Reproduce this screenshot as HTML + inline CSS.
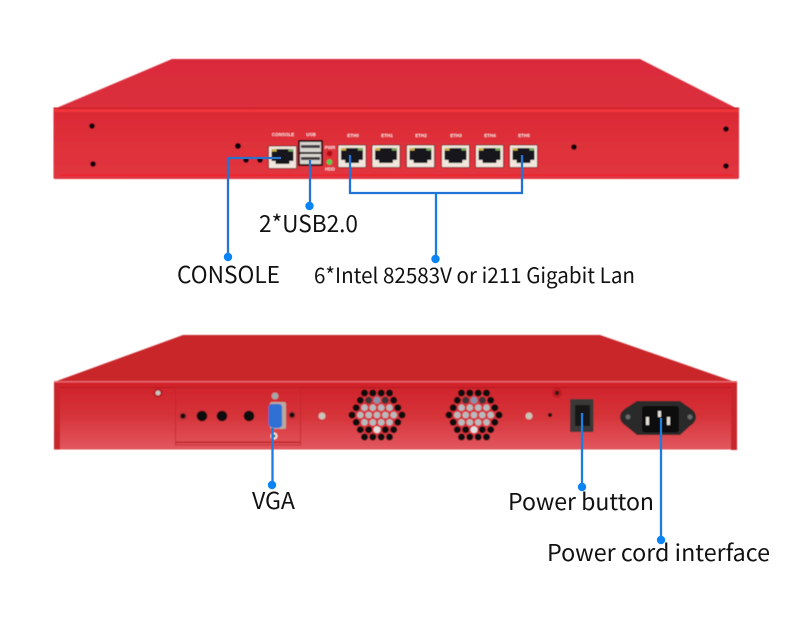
<!DOCTYPE html>
<html><head><meta charset="utf-8"><style>html,body{margin:0;padding:0;background:#fff}svg{display:block}text{font-family:"Liberation Sans",sans-serif}.l{font-family:"Noto Sans CJK JP","Liberation Sans",sans-serif;font-size:23px;fill:#111}.s{font-size:4.5px;font-weight:bold;fill:#f8dcdc;text-anchor:middle}</style></head><body>
<svg width="790" height="617" viewBox="0 0 790 617" xmlns="http://www.w3.org/2000/svg">
<defs>
<filter id="b" x="-2%" y="-2%" width="104%" height="104%"><feGaussianBlur stdDeviation=".4"/></filter>
<linearGradient id="f1" x1="0" y1="0" x2="0" y2="1"><stop offset="0" stop-color="#dc2a35"/><stop offset="1" stop-color="#e13640"/></linearGradient>
<linearGradient id="t1" x1="0" y1="0" x2="0" y2="1"><stop offset="0" stop-color="#d92b3a"/><stop offset="1" stop-color="#dc303d"/></linearGradient>
<linearGradient id="f2" x1="0" y1="0" x2="0" y2="1"><stop offset="0" stop-color="#d0222a"/><stop offset=".5" stop-color="#d6333a"/><stop offset="1" stop-color="#e2575e"/></linearGradient>
<g id="rj"><rect x="0" y="0" width="28" height="22.500" rx="1" fill="#f0e6dc" stroke="#5a1014" stroke-width=".8"/><path d="M3 3H25V15H21V18H7V15H3Z" fill="#16181c"/><rect x="3" y="3" width="5" height="2.500" fill="#c9b04a"/><rect x="20" y="3" width="5" height="2.500" fill="#79a85c"/></g>
<g id="fan">
<circle cx="0" cy="0" r="22" fill="#d8343c"/>
<g fill="#0d0a0c">
<circle cx="-12.500" cy="-22" r="3.500"/><circle cx="-4.200" cy="-22" r="3.500"/><circle cx="4.200" cy="-22" r="3.500"/><circle cx="12.500" cy="-22" r="3.500"/>
<circle cx="-16.700" cy="-14.700" r="3.500"/><circle cx="16.700" cy="-14.700" r="3.500"/>
<circle cx="-20.800" cy="-7.300" r="3.500"/><circle cx="20.800" cy="-7.300" r="3.500"/>
<circle cx="-25" cy="0" r="3.500"/><circle cx="25" cy="0" r="3.500"/>
<circle cx="-20.800" cy="7.300" r="3.500"/><circle cx="20.800" cy="7.300" r="3.500"/>
<circle cx="-16.700" cy="14.700" r="3.500"/><circle cx="16.700" cy="14.700" r="3.500"/>
<circle cx="-12.500" cy="22" r="3.500"/><circle cx="-4.200" cy="22" r="3.500"/><circle cx="4.200" cy="22" r="3.500"/><circle cx="12.500" cy="22" r="3.500"/>
<circle cx="-8.300" cy="-14.700" r="3.500" fill="#3a3034"/><circle cx="0" cy="-14.700" r="3.500" fill="#8a90a8"/><circle cx="8.300" cy="-14.700" r="3.500" fill="#3a3034"/>
<circle cx="-8.300" cy="14.700" r="3.500"/><circle cx="0" cy="14.700" r="3.500" fill="#e0e0e0"/><circle cx="8.300" cy="14.700" r="3.500"/>
</g>
<g fill="#b8babc">
<circle cx="-12.500" cy="-7.300" r="3.300"/><circle cx="-4.200" cy="-7.300" r="3.300"/><circle cx="4.200" cy="-7.300" r="3.300"/><circle cx="12.500" cy="-7.300" r="3.300"/>
<circle cx="-16.700" cy="0" r="3.300"/><circle cx="-8.300" cy="0" r="3.300"/><circle cx="0" cy="0" r="3.300"/><circle cx="8.300" cy="0" r="3.300"/><circle cx="16.700" cy="0" r="3.300"/>
<circle cx="-12.500" cy="7.300" r="3.300"/><circle cx="-4.200" cy="7.300" r="3.300"/><circle cx="4.200" cy="7.300" r="3.300"/><circle cx="12.500" cy="7.300" r="3.300"/>
</g>
</g>
</defs>

<g filter="url(#b)">
<!-- top device -->
<polygon points="172,59 640,59 738,109 54,109" fill="url(#t1)"/>
<rect x="53.500" y="109" width="685.500" height="70" rx="1.500" fill="url(#f1)"/>
<rect x="53.500" y="109" width="685.500" height="3" fill="#f0343a"/>
<rect x="53.500" y="107.500" width="685.500" height="1.500" fill="#c81e28"/>
<rect x="60" y="174.500" width="673" height="1.200" fill="#f01e24"/>
<g fill="#0a0608"><circle cx="92" cy="126" r="2.800"/><circle cx="93" cy="164" r="2.800"/><circle cx="238" cy="146" r="3"/><circle cx="246" cy="160" r="2.800"/><circle cx="260" cy="160" r="2.800"/><circle cx="574" cy="147" r="2.800"/><circle cx="726" cy="129" r="2.800"/><circle cx="726" cy="166" r="2.800"/></g>
<use href="#rj" x="268.500" y="146"/>
<rect x="298" y="140" width="25" height="26" rx="1" fill="#15100f"/>
<rect x="300" y="142" width="21" height="10" fill="#d8d4d0"/><rect x="300" y="154" width="21" height="10" fill="#d8d4d0"/>
<rect x="301" y="145" width="19" height="3" fill="#3a3a3e"/><rect x="301" y="157" width="19" height="3" fill="#3a3a3e"/>
<circle cx="329.500" cy="153.500" r="2.800" fill="#b01014"/><circle cx="329.500" cy="162" r="2.800" fill="#52d050"/>
<use href="#rj" x="338" y="145"/><use href="#rj" x="372" y="145"/><use href="#rj" x="406.500" y="145"/><use href="#rj" x="441.500" y="145"/><use href="#rj" x="475.500" y="145"/><use href="#rj" x="509.500" y="145"/>
<text class="s" x="283" y="136">CONSOLE</text><text class="s" x="311" y="136">USB</text><text class="s" x="330" y="149">PWR</text><text class="s" x="330" y="170.500">HDD</text>
<text class="s" x="353" y="137">ETH0</text><text class="s" x="387" y="137">ETH1</text><text class="s" x="421" y="137">ETH2</text><text class="s" x="456" y="137">ETH3</text><text class="s" x="490" y="137">ETH4</text><text class="s" x="524" y="137">ETH5</text>

<!-- bottom device -->
<polygon points="183,335 600,335 735,382 54,382" fill="#c9262c"/>
<rect x="54" y="382" width="683" height="67.500" fill="url(#f2)"/>
<rect x="54" y="381" width="683" height="1.500" fill="#e8666a"/>
<rect x="60" y="387" width="671" height="1.200" fill="#b81e24"/>
<rect x="54" y="384" width="6" height="65.500" fill="#c8262c"/><rect x="731" y="386" width="6" height="64" fill="#c8262c"/>
<rect x="175.500" y="388" width="125" height="57" fill="none" stroke="#c0262c" stroke-width=".8"/>
<rect x="176" y="441.500" width="124" height="1.500" fill="#c02228"/>
<circle cx="158" cy="393" r="4.500" fill="#b81a20"/><circle cx="158" cy="393" r="2.500" fill="#c8c4c4"/>
<circle cx="183" cy="416" r="4" fill="#b43036"/><circle cx="183" cy="416" r="2.500" fill="#0c0808"/>
<g fill="#0c0808"><circle cx="202" cy="416" r="5.300"/><circle cx="222" cy="416" r="5.300"/><circle cx="249" cy="416" r="5.300"/></g>
<circle cx="292" cy="415" r="4" fill="#b43036"/><circle cx="292" cy="415" r="2.500" fill="#0c0808"/>
<circle cx="275" cy="396" r="3.500" fill="#a8a4a4"/><circle cx="274" cy="436" r="3.500" fill="#ece8e8"/><circle cx="274" cy="436" r="1.500" fill="#555"/>
<rect x="270" y="402" width="16" height="27" rx="2" fill="#b8a8a0"/>
<path d="M268.500 406L271 404H280L282 406V426L279 428H272L268.500 425Z" fill="#2f6fd6"/>
<circle cx="322" cy="416" r="3.500" fill="#c8c4b8"/>
<use href="#fan" x="377" y="415"/><use href="#fan" x="474" y="415"/>
<circle cx="529" cy="416" r="3.500" fill="#c8c4b8"/>
<circle cx="550" cy="415" r="2" fill="#1a0c0c"/>
<circle cx="557" cy="393" r="5" fill="#c01c22"/><circle cx="557" cy="393" r="2.200" fill="#3a1214"/>
<rect x="570" y="399" width="23.500" height="33" rx="1" fill="#3a3838"/>
<rect x="575" y="405" width="15" height="21" fill="#191818"/>
<path d="M637 401H680L690 408Q696 412 696 417Q696 422 690 426L680 435H637L626 426Q620 422 620 417Q620 412 626 408Z" fill="#2a2a2c"/>
<rect x="642" y="406" width="37" height="26.500" rx="3" fill="#070707"/>
<rect x="646" y="417" width="3" height="8" fill="#e4e0d8"/><rect x="658" y="411" width="3" height="6" fill="#e4e0d8"/><rect x="667" y="417" width="3" height="8" fill="#e4e0d8"/>
<circle cx="628" cy="417" r="2.500" fill="#6a6a6a"/><circle cx="690" cy="417" r="2.500" fill="#6a6a6a"/>
</g>

<!-- connectors -->
<g fill="none" stroke="#1b7de0" stroke-width="2.300">
<path d="M281 158H228V257" stroke="#2a72cc"/>
<path d="M310 160V206" stroke="#2a72cc"/>
<path d="M350 155V193H522V155" stroke="#2273d6"/>
<path d="M436 193V259"/>
<path d="M272.500 428V485"/>
<path d="M582 413V487"/>
<path d="M661 418V540"/>
</g>
<g fill="#0a84f5"><circle cx="228" cy="257" r="4.200"/><circle cx="309.500" cy="206" r="4.200"/><circle cx="435.500" cy="259" r="4.200"/><circle cx="272" cy="485" r="4.200"/><circle cx="582" cy="487" r="4.200"/><circle cx="661" cy="540" r="4.200"/></g>

<text class="l" x="259" y="232" textLength="99" lengthAdjust="spacingAndGlyphs">2*USB2.0</text>
<text class="l" x="177" y="283" textLength="103" lengthAdjust="spacingAndGlyphs">CONSOLE</text>
<text class="l" x="314" y="283" textLength="321" lengthAdjust="spacingAndGlyphs" style="font-size:21px">6*Intel 82583V or i211 Gigabit Lan</text>
<text class="l" x="252" y="509" textLength="43" lengthAdjust="spacingAndGlyphs">VGA</text>
<text class="l" x="508" y="510" textLength="146" lengthAdjust="spacingAndGlyphs">Power button</text>
<text class="l" x="547" y="561" textLength="223" lengthAdjust="spacingAndGlyphs">Power cord interface</text>
</svg>
</body></html>
